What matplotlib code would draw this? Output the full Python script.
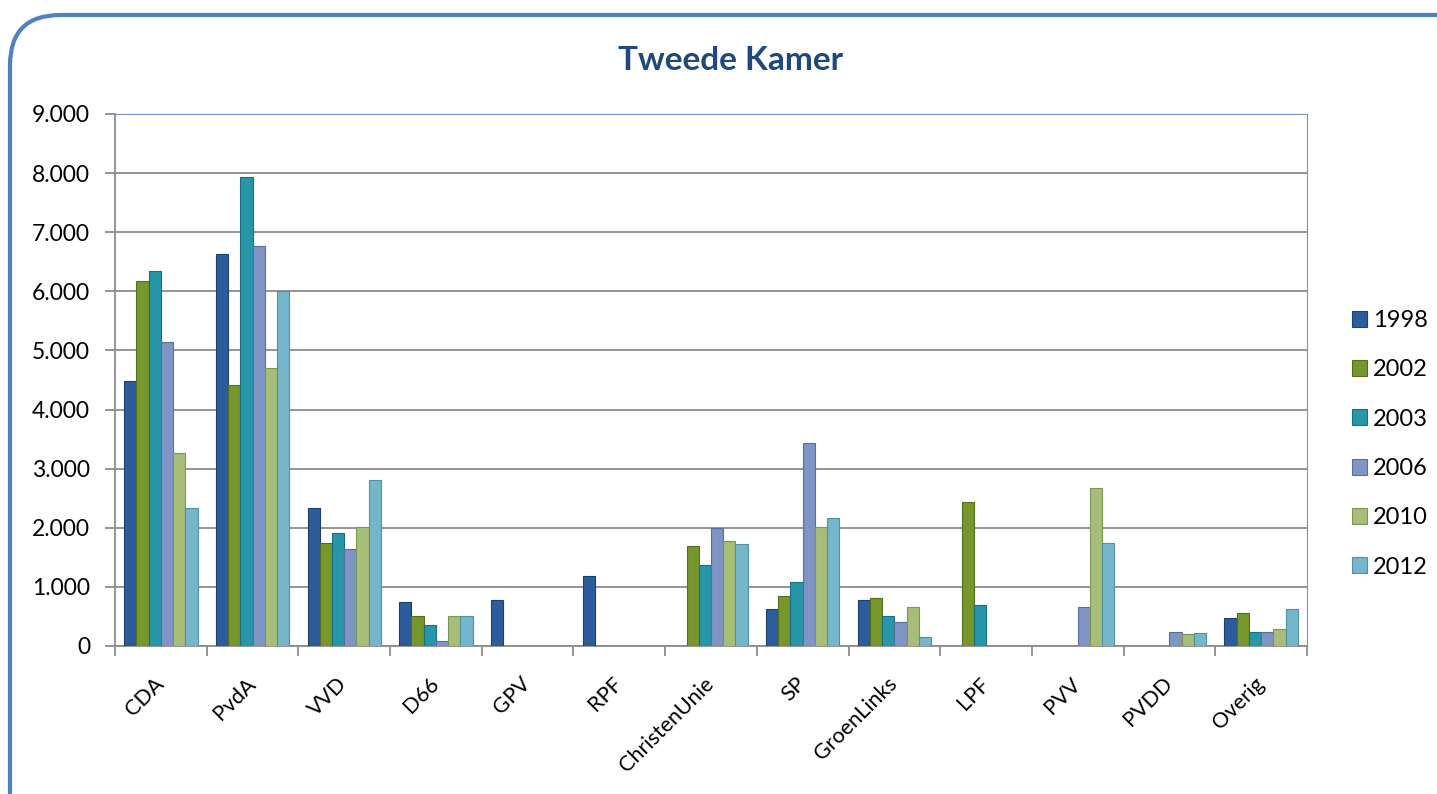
import numpy as np
import matplotlib
matplotlib.use("Agg")
import matplotlib.pyplot as plt
from matplotlib.patches import FancyBboxPatch
from matplotlib.ticker import FuncFormatter

parties = ["CDA", "PvdA", "VVD", "D66", "GPV", "RPF", "ChristenUnie", "SP",
           "GroenLinks", "LPF", "PVV", "PVDD", "Overig"]
years = ["1998", "2002", "2003", "2006", "2010", "2012"]
nan = np.nan
v1998 = [4480, 6630, 2340, 750, 780, 1190, nan, 620, 780, nan, nan, nan, 470]
v2002 = [6180, 4410, 1740, 510, nan, nan, 1700, 850, 820, 2430, nan, nan, 550]
v2003 = [6350, 7940, 1910, 355, nan, nan, 1370, 1080, 500, 695, nan, nan, 240]
v2006 = [5150, 6760, 1640, 90, nan, nan, 2000, 3430, 410, nan, 665, 240, 230]
v2010 = [3260, 4700, 2020, 500, nan, nan, 1780, 2010, 665, nan, 2670, 195, 290]
v2012 = [2330, 6010, 2810, 513, nan, nan, 1725, 2170, 150, nan, 1750, 225, 620]
series = [v1998, v2002, v2003, v2006, v2010, v2012]

colors = ["#2c5c9c", "#77962c", "#2896a9", "#7f95c6", "#a7be78", "#76b6cb"]
edges = ["#1d3f6e", "#55701c", "#1a6f7e", "#5a6e9a", "#7f9555", "#52909f"]

fig = plt.figure(figsize=(14.37, 7.94), dpi=100)

# rounded chart frame (runs off the right and bottom edge)
frame = FancyBboxPatch((10 / 1437, -0.2), 1.1, 1.2 - 15 / 794,
                       boxstyle="round,pad=0,rounding_size=0.035",
                       transform=fig.transFigure, facecolor="none",
                       edgecolor="#4f81bd", linewidth=3, zorder=-5,
                       mutation_aspect=1437 / 794)
fig.patches.append(frame)

ax = fig.add_axes([115 / 1437, 1 - 646 / 794, 1192 / 1437, 532 / 794])
ax.set_zorder(2)
ax.set_facecolor("white")

x = np.arange(len(parties))
n = len(series)
group = 0.8
w = group / n
for i, vals in enumerate(series):
    pos = x - group / 2 + w * (i + 0.5)
    ax.bar(pos, vals, width=w, color=colors[i], edgecolor=edges[i],
           linewidth=0.8, label=years[i], zorder=3)

ax.set_xlim(-0.5, len(parties) - 0.5)
ax.set_ylim(0, 9000)
ax.set_yticks(np.arange(0, 9001, 1000))
ax.yaxis.set_major_formatter(FuncFormatter(lambda v, p: f"{int(v):,}".replace(",", ".")))
ax.grid(axis="y", color="#8c8c8c", linewidth=1.3, zorder=1)

ax.set_xticks(x)
ax.set_xticklabels(parties, rotation=45, ha="right", va="center",
                   rotation_mode="anchor", fontsize=15.5, family="Lato")
ax.set_xticks(np.arange(-0.5, len(parties)), minor=True)
ax.tick_params(axis="x", which="major", length=0, pad=25)
ax.tick_params(axis="x", which="minor", length=7, color="#8c8c8c", width=1.3)
ax.tick_params(axis="y", length=7, color="#8c8c8c", width=1.3, labelsize=16.5, pad=11)
for lab in ax.get_yticklabels():
    lab.set_family("Lato")

ax.spines["left"].set_color("#8c8c8c")
ax.spines["bottom"].set_color("#8c8c8c")
ax.spines["left"].set_linewidth(1.3)
ax.spines["bottom"].set_linewidth(1.3)
ax.spines["top"].set_color("#6f93c8")
ax.spines["right"].set_color("#6f93c8")
ax.set_axisbelow(True)

fig.text(731 / 1437, 1 - 60 / 794, "Tweede Kamer", ha="center", va="center",
         fontsize=24, fontweight="bold", color="#1f497d", family="Lato")

leg = ax.legend(loc="center left", bbox_to_anchor=(1.02, 0.38), frameon=False,
                prop={"family": "Lato", "size": 17}, handlelength=0.65,
                handleheight=0.65, handletextpad=0.25, labelspacing=1.2)

fig.savefig("out.png", dpi=100)
